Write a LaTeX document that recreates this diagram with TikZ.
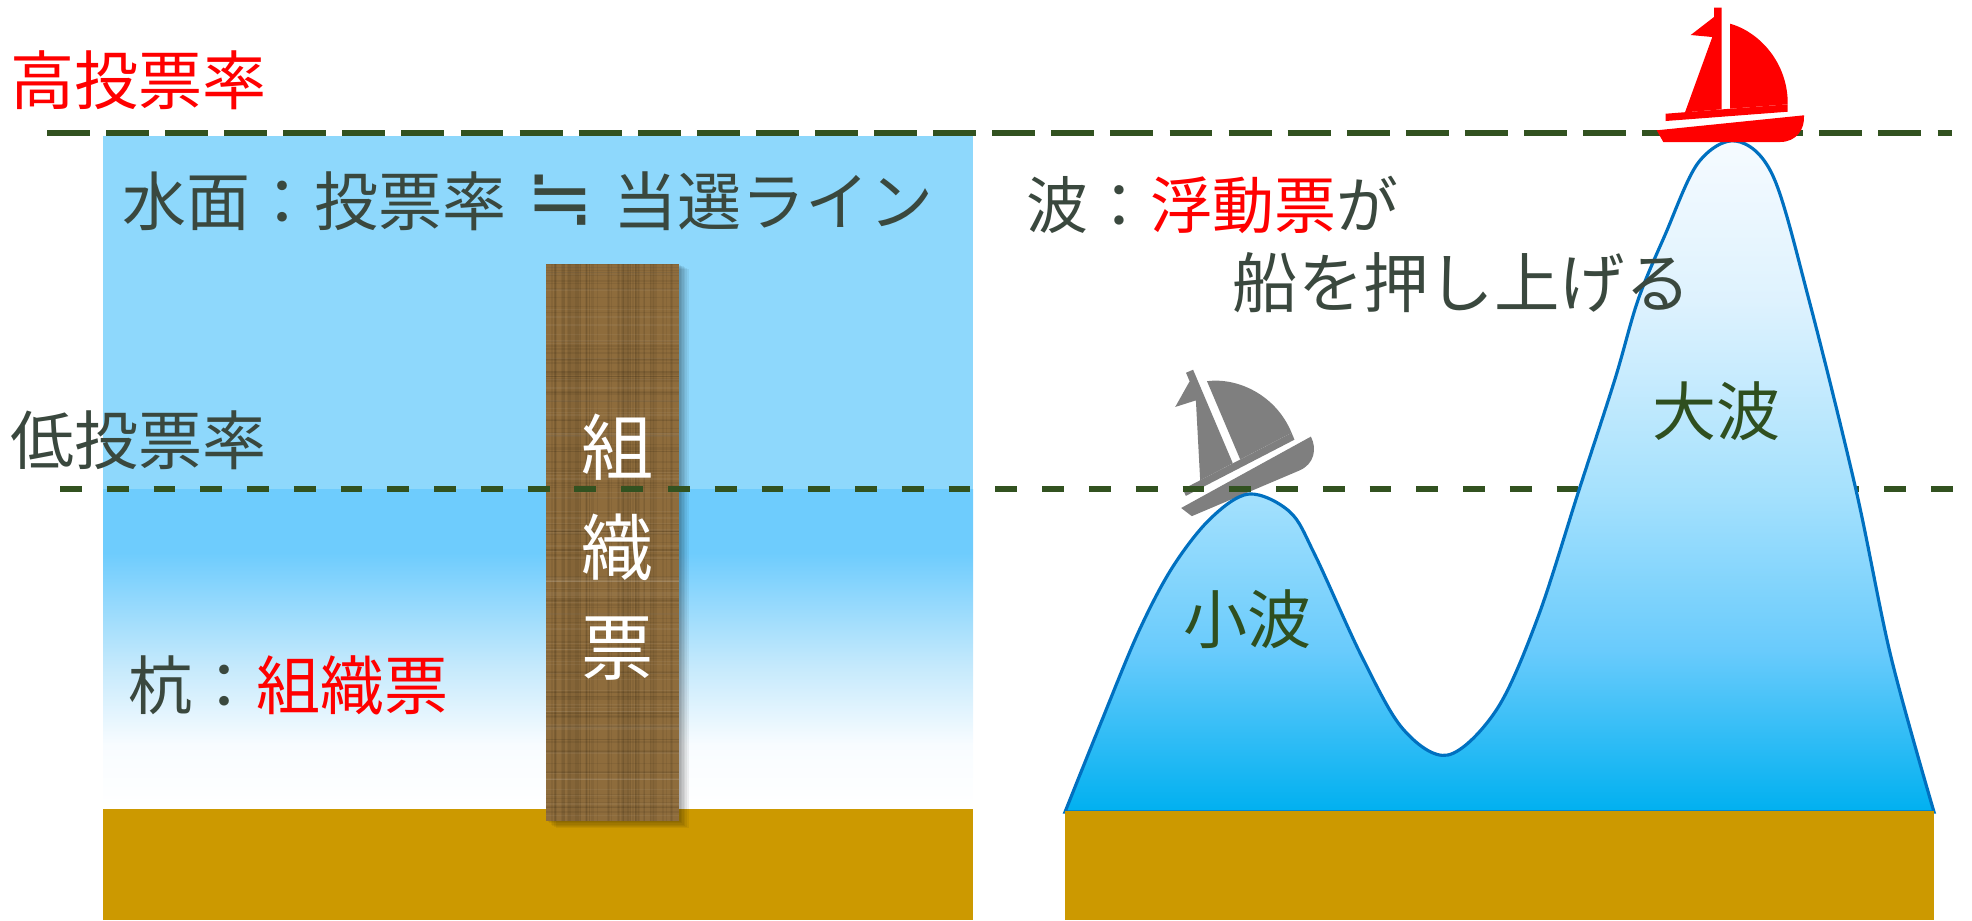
\documentclass[tikz,border=0pt]{standalone}
\usepackage{fontspec}
\setmainfont{Noto Sans CJK JP}
\newfontfamily\symfont{DejaVu Sans}
\usepackage{tikz}
\usetikzlibrary{calc}

% colours
\definecolor{skytop}{RGB}{142,216,252}
\definecolor{skylow}{RGB}{110,204,253}
\definecolor{skymid}{RGB}{196,233,252}
\definecolor{skypale}{RGB}{248,252,255}
\definecolor{ground}{RGB}{204,153,0}
\definecolor{stakebrown}{RGB}{142,108,60}
\definecolor{dashgreen}{RGB}{50,82,32}
\definecolor{textdark}{RGB}{58,72,62}
\definecolor{wavegreen}{RGB}{47,79,31}
\definecolor{waveline}{RGB}{0,112,192}
\definecolor{wavetop}{RGB}{246,251,255}
\definecolor{waveA}{RGB}{222,242,254}
\definecolor{waveB}{RGB}{165,225,253}
\definecolor{waveC}{RGB}{105,203,252}
\definecolor{wavebase}{RGB}{0,176,240}
\definecolor{boatgray}{RGB}{127,127,127}

% water below the low line, fading out towards the ground
\pgfdeclareverticalshading{lowwater}{100bp}{color(0bp)=(white); color(25bp)=(white);
  color(35bp)=(skypale); color(47.5bp)=(skymid); color(65bp)=(skylow); color(75bp)=(skylow); color(100bp)=(skylow)}
% wave body, pale at the crest
\pgfdeclareverticalshading{wavefill}{100bp}{color(0bp)=(wavebase); color(25bp)=(wavebase);
  color(37bp)=(waveC); color(48.7bp)=(waveB); color(63bp)=(waveA); color(75bp)=(wavetop); color(100bp)=(wavetop)}

\tikzset{
  label text/.style={anchor=west, inner sep=0pt, text=textdark, font=\fontsize{18.2pt}{20pt}\selectfont},
  stake text/.style={inner sep=0pt, text=white, align=center, font=\fontsize{20.5pt}{28.5pt}\selectfont},
  high line/.style={dashgreen, line width=1.7pt, dash pattern=on 12.2pt off 4.6pt},
  low line/.style={dashgreen, line width=1.7pt, dash pattern=on 6.2pt off 7.1pt},
  grain dark/.style={black, opacity=0.06, line width=0.4pt},
  grain light/.style={white, opacity=0.05, line width=0.4pt},
  pics/sailboat/.style={code={
    % mast, flag and jib
    \path[pic actions] (-6,-134.3) -- (1.7,-134.3) -- (1.7,-32.7) -- (-35,-29.7)
      -- (-7.7,-105) -- (-29.3,-107) -- (-6,-125) -- cycle;
    % main sail
    \path[pic actions] (10,-118.3) .. controls (40,-110) and (68.3,-78.3) .. (67.7,-37.7)
      -- (10,-33.3) -- cycle;
    % deck
    \path[pic actions] (-54.3,-28.3) -- (67.7,-37.7) -- (67.7,-30.3) -- (-54.3,-21) -- cycle;
    % hull
    \path[pic actions] (-63.3,-11.7) -- (84,-26.7) .. controls (85,-13.3) and (76.7,0) .. (60,0)
      -- (-56.7,0) -- cycle;
  }}
}

\begin{document}
\begin{tikzpicture}[x=0.01cm, y=-0.01cm]
  \useasboundingbox (0,0) rectangle (1972,920);

  % left: water and ground
  \fill[skytop] (103,136) rectangle (973,489);
  \shade[shading=lowwater] (103,489) rectangle (973,809);
  \fill[ground] (103,809) rectangle (973,920);

  % the stake, with a soft shadow
  \foreach \s in {1,...,6}
    \fill[black, opacity=0.06] (546+\s*1.6,264+\s*0.8) rectangle (679+\s*1.6,821+\s*1.2);
  \fill[stakebrown] (546,264) rectangle (679,821);
  \begin{scope}
    \clip (546,264) rectangle (679,821);
    \pgfmathsetseed{11}
    \foreach \i in {1,...,70}{
      \pgfmathsetmacro{\gx}{546+133*rnd}
      \draw[grain dark] (\gx,264) -- (\gx,821);
    }
    \foreach \i in {1,...,120}{
      \pgfmathsetmacro{\gy}{264+557*rnd}
      \draw[grain dark] (546,\gy) -- (679,\gy);
    }
    \foreach \i in {1,...,80}{
      \pgfmathsetmacro{\gy}{264+557*rnd}
      \draw[grain light] (546,\gy) -- (679,\gy);
    }
  \end{scope}
  \node[stake text] (stakelabel) at (618,547) {組\\織\\票};

  % small boat tipping on the small wave
  \pic[fill=boatgray, rotate=23] at (1244,494) {sailboat};

  % turnout levels
  \coordinate (highL) at (47,133);
  \coordinate (highR) at (1952,133);
  \coordinate (lowL) at (60,489);
  \coordinate (lowR) at (1965,489);
  \draw[high line] (highL) -- (highR);
  \draw[low line] (lowL) -- (lowR);

  % right: the waves
  \path[draw=waveline, line width=0.9pt, shade, shading=wavefill]
    plot[smooth, tension=0.55] coordinates {
      (1065,812) (1100,725) (1138,633) (1172,568) (1210,519) (1249,494)
      (1290,512) (1315,555) (1362,657) (1403,729) (1448,755) (1497,709)
      (1538,617) (1579,490) (1615,379) (1638,300) (1665,235) (1698,163)
      (1736,141) (1773,176) (1809,300) (1856,490) (1891,657) (1934,812)}
    -- cycle;
  \fill[ground] (1065,811) rectangle (1934,920);

  % big boat on the big wave
  \pic[fill=red] at (1720,142) {sailboat};

  % labels
  \node[label text, text=red] (high) at (10,80) {高投票率};
  \node[label text] (low) at (10,440) {低投票率};
  \node[label text] (surface) at (122,201)
    {水面：投票率\makebox[1.67em]{\symfont\fontsize{23pt}{23pt}\selectfont ≒}当選ライン};
  \node[label text] (pile) at (128,685) {杭：\textcolor{red}{組織票}};
  \node[label text, font=\fontsize{17.6pt}{20pt}\selectfont] (wave) at (1026,205) {波：\textcolor{red}{浮動票}が};
  \node[label text, font=\fontsize{18.6pt}{20pt}\selectfont] (push) at (1232,283) {船を押し上げる};
  \node[label text, text=wavegreen] (small) at (1183,619) {小波};
  \node[label text, text=wavegreen] (big) at (1652,411) {大波};
\end{tikzpicture}
\end{document}
